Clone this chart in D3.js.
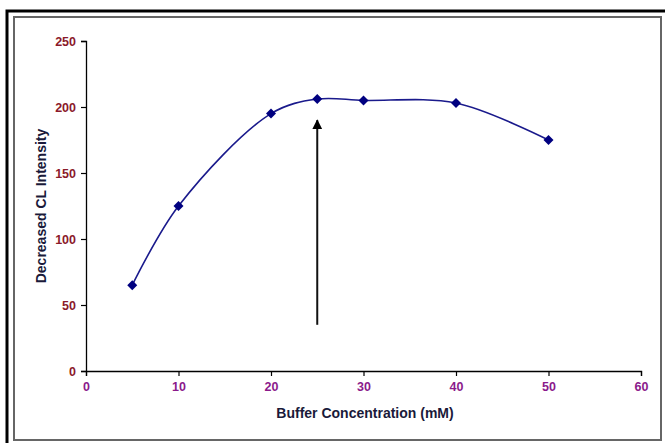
<!DOCTYPE html>
<html>
<head>
<meta charset="utf-8">
<script src="https://cdn.jsdelivr.net/npm/d3@7"></script>
<style>
  body { margin: 0; background: #fff; }
  svg { display: block; font-family: "Liberation Sans", Arial, sans-serif; }
</style>
</head>
<body>
<svg id="chart" width="665" height="443"></svg>
<script>
// data
var concentration = [5, 10, 20, 25, 30, 40, 50];
var intensity = [65, 125, 195, 206, 205, 203, 175];
var xTicks = [0, 10, 20, 30, 40, 50, 60];
var yTicks = [0, 50, 100, 150, 200, 250];
var arrowX = 25, arrowFrom = 35, arrowTo = 190;

var svg = d3.select("#chart");

// outer + inner frames
svg.append("rect").attr("x", 7).attr("y", 11).attr("width", 670).attr("height", 450)
  .attr("fill", "none").attr("stroke", "#000").attr("stroke-width", 3);
svg.append("rect").attr("x", 14).attr("y", 17).attr("width", 647).attr("height", 423)
  .attr("fill", "none").attr("stroke", "#666").attr("stroke-width", 2);

var x = d3.scaleLinear().domain([0, 60]).range([86, 641]);
var y = d3.scaleLinear().domain([0, 250]).range([371, 41]);

// axes
var gx = svg.append("g").attr("transform", "translate(0," + y(0) + ")")
  .call(d3.axisBottom(x).tickValues(xTicks).tickSize(5).tickPadding(6));
var gy = svg.append("g").attr("transform", "translate(" + x(0) + ",0)")
  .call(d3.axisLeft(y).tickValues(yTicks).tickSize(5).tickPadding(5));

[gx, gy].forEach(function (g) {
  g.select(".domain").attr("stroke", "#000").attr("stroke-width", 1.3);
  g.selectAll(".tick line").attr("stroke", "#000").attr("stroke-width", 1.2);
  g.selectAll(".tick text").attr("font-size", 12.5).attr("font-weight", "bold")
    .attr("font-family", "'Liberation Sans', Arial, sans-serif");
});
gx.selectAll(".tick text").attr("fill", "#8b1a8b");
gy.selectAll(".tick text").attr("fill", "#8b1a2a");

// axis titles
svg.append("text").attr("x", 365).attr("y", 418).attr("text-anchor", "middle")
  .attr("font-size", 14).attr("font-weight", "bold").attr("fill", "#1a1a3a")
  .text("Buffer Concentration (mM)");
svg.append("text").attr("transform", "translate(46," + y(125) + ") rotate(-90)")
  .attr("text-anchor", "middle").attr("font-size", 14).attr("font-weight", "bold")
  .attr("fill", "#1a1a3a").text("Decreased CL Intensity");

// smoothed line
var pts = concentration.map(function (c, i) { return [c, intensity[i]]; });
var line = d3.line().x(function (d) { return x(d[0]); }).y(function (d) { return y(d[1]); })
  .curve(d3.curveCatmullRom.alpha(0.5));
svg.append("path").datum(pts).attr("d", line)
  .attr("fill", "none").attr("stroke", "#1a1a8c").attr("stroke-width", 1.6);

svg.selectAll("path.pt").data(pts).enter().append("path").attr("class", "pt")
  .attr("transform", function (d) { return "translate(" + x(d[0]) + "," + y(d[1]) + ")"; })
  .attr("d", d3.symbol().type(d3.symbolDiamond2).size(64))
  .attr("fill", "#000080");

// arrow
svg.append("defs").append("marker").attr("id", "head")
  .attr("viewBox", "0 0 10 10").attr("refX", 9).attr("refY", 5)
  .attr("markerWidth", 5).attr("markerHeight", 5).attr("orient", "auto")
  .attr("markerUnits", "strokeWidth")
  .append("path").attr("d", "M0,0L10,5L0,10Z").attr("fill", "#000");
svg.append("line").attr("x1", x(arrowX)).attr("x2", x(arrowX))
  .attr("y1", y(arrowFrom)).attr("y2", y(arrowTo))
  .attr("stroke", "#111").attr("stroke-width", 2).attr("marker-end", "url(#head)");
</script>
</body>
</html>
